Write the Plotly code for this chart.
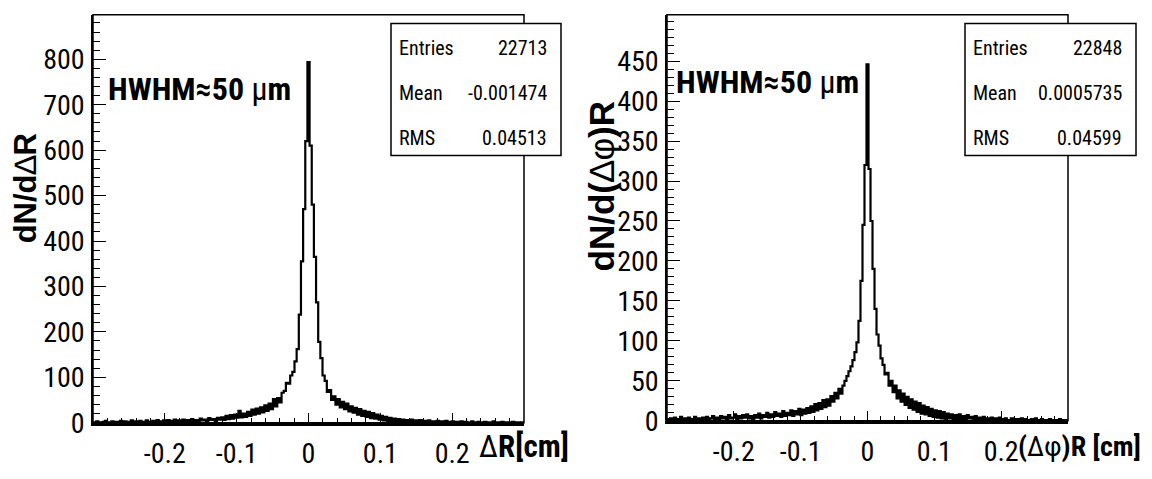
import plotly.graph_objects as go

W, H = 1152, 479

# ---------------- data ----------------
bin_lo = -0.3015
bin_width = 0.003
n_bins = 201
centers = [round(bin_lo + bin_width * (i + 0.5), 4) for i in range(n_bins)]

counts_dR = [
    1, 0, 3, 1, 0, 2, 4, 1, 0, 3, 1, 2, 0, 4, 1, 3, 0, 2, 5, 1,
    3, 0, 4, 2, 1, 5, 2, 0, 4, 3, 6, 1, 3, 5, 2, 6, 1, 4, 7, 2,
    5, 2, 7, 3, 6, 2, 8, 4, 6, 3, 9, 5, 7, 3, 10, 6, 8, 4, 11, 7,
    12, 6, 15, 8, 17, 9, 18, 11, 26, 12, 20, 13, 24, 15, 29, 18, 31, 20, 34, 23,
    38, 26, 42, 30, 52, 36, 54, 45, 66, 70, 88, 86, 104, 112, 135, 162, 238, 355, 470, 620,
    794,
    610, 480, 365, 265, 178, 142, 104, 92, 68, 72, 50, 58, 40, 52, 34, 46, 30, 42, 25, 36,
    22, 33, 18, 30, 15, 26, 13, 24, 10, 21, 9, 18, 7, 15, 5, 13, 4, 11, 3, 9,
    2, 8, 1, 7, 3, 6, 1, 7, 2, 5, 0, 6, 2, 4, 1, 5, 0, 3, 2, 4,
    0, 3, 1, 4, 0, 2, 3, 0, 2, 1, 3, 0, 2, 1, 0, 3, 1, 0, 2, 1,
    0, 2, 1, 0, 1, 3, 0, 1, 0, 2, 1, 0, 1, 0, 2, 0, 1, 0, 1, 0,
]

counts_dphiR = [
    2, 0, 3, 1, 4, 0, 2, 5, 1, 3, 0, 4, 2, 1, 5, 2, 3, 0, 4, 2,
    5, 1, 3, 6, 2, 4, 1, 6, 3, 5, 2, 7, 3, 4, 8, 2, 6, 3, 7, 4,
    8, 3, 6, 2, 7, 4, 9, 3, 7, 5, 10, 4, 8, 5, 11, 6, 9, 5, 12, 6,
    10, 7, 13, 6, 12, 8, 15, 7, 14, 9, 16, 10, 18, 11, 21, 13, 22, 15, 26, 17,
    27, 19, 31, 24, 35, 28, 40, 34, 44, 50, 56, 62, 68, 76, 86, 98, 125, 175, 245, 320,
    446,
    315, 250, 190, 140, 108, 94, 78, 70, 58, 60, 44, 50, 36, 44, 28, 38, 24, 34, 20, 30,
    16, 27, 14, 24, 11, 22, 9, 19, 8, 17, 6, 15, 5, 13, 4, 12, 3, 11, 2, 9,
    3, 8, 2, 7, 1, 8, 2, 6, 1, 7, 3, 5, 0, 6, 2, 4, 1, 5, 0, 3,
    2, 4, 0, 3, 1, 4, 0, 2, 3, 1, 0, 3, 2, 0, 2, 1, 3, 0, 2, 1,
    0, 2, 1, 3, 0, 1, 2, 0, 1, 0, 2, 1, 0, 1, 0, 2, 0, 1, 0, 1,
]

x_tickvals = [-0.2, -0.1, 0.0, 0.1, 0.2]
x_ticktext = ["-0.2", "-0.1", "0", "0.1", "0.2"]
y_ticks_dR = [0, 100, 200, 300, 400, 500, 600, 700, 800]
y_ticks_dphiR = [0, 50, 100, 150, 200, 250, 300, 350, 400, 450]

stat_labels = ["Entries", "Mean", "RMS"]
stats_dR = ["22713", "-0.001474", "0.04513"]
stats_dphiR = ["22848", "0.0005735", "0.04599"]

# ---------------- styling ----------------
COND = "Roboto Condensed, Liberation Sans, Arial, sans-serif"
SANS = "Liberation Sans, Arial, sans-serif"


def px(x):
    return x / W


def py(y):
    return 1 - y / H


fig = go.Figure()
fig.add_trace(go.Scatter(x=centers, y=counts_dR, mode="lines", line=dict(color="black", width=2.2, shape="hvh"),
                         xaxis="x", yaxis="y", showlegend=False, hoverinfo="skip"))
fig.add_trace(go.Scatter(x=centers, y=counts_dphiR, mode="lines", line=dict(color="black", width=2.2, shape="hvh"),
                         xaxis="x2", yaxis="y2", showlegend=False, hoverinfo="skip"))

tickfont = dict(family=COND, size=28, color="black")


def xaxis_cfg(domain, anchor):
    return dict(domain=domain, anchor=anchor, range=[-0.3, 0.3], tickvals=x_tickvals, ticktext=x_ticktext,
                ticks="inside", ticklen=10, tickwidth=1, tickcolor="black",
                minor=dict(dtick=0.02, tick0=0, ticks="inside", ticklen=5, tickwidth=1, tickcolor="black"),
                showline=True, linewidth=3, linecolor="black", mirror=False, showgrid=False, zeroline=False,
                tickfont=tickfont, ticklabelstandoff=4)


def yaxis_cfg(domain, anchor, rng, tickvals, minor_dtick):
    return dict(domain=domain, anchor=anchor, range=rng, tickvals=tickvals,
                ticktext=[str(v) for v in tickvals],
                ticks="inside", ticklen=13, tickwidth=1, tickcolor="black",
                minor=dict(dtick=minor_dtick, tick0=0, ticks="inside", ticklen=7, tickwidth=1, tickcolor="black"),
                showline=True, linewidth=1.5, linecolor="black", mirror=False, showgrid=False, zeroline=False,
                tickfont=tickfont, ticklabelstandoff=1)


L1, R1, T1, B1 = 85, 516, 7, 430
L2, R2, T2, B2 = 659, 1060, 7, 428

fig.update_layout(
    width=W, height=H, margin=dict(l=0, r=0, t=0, b=0),
    paper_bgcolor="white", plot_bgcolor="white",
    xaxis=xaxis_cfg([px(L1), px(R1)], "y"),
    yaxis=yaxis_cfg([py(B1), py(T1)], "x", [0, 898], y_ticks_dR, 20),
    xaxis2=xaxis_cfg([px(L2), px(R2)], "y2"),
    yaxis2=yaxis_cfg([py(B2), py(T2)], "x2", [0, 508], y_ticks_dphiR, 10),
)

shapes = []
for xr, yr in [("x domain", "y domain"), ("x2 domain", "y2 domain")]:
    shapes.append(dict(type="rect", xref=xr, yref=yr, x0=0, x1=1, y0=0, y1=1,
                       line=dict(color="black", width=1.5), layer="above"))

annotations = []


def stats_box(x0, x1, y0, y1, values):
    shapes.append(dict(type="rect", xref="paper", yref="paper", x0=px(x0), x1=px(x1), y0=py(y1), y1=py(y0),
                       line=dict(color="black", width=1.5), fillcolor="white", layer="above"))
    row_y = [41, 88, 135]
    for lab, val, yy in zip(stat_labels, values, row_y):
        annotations.append(dict(xref="paper", yref="paper", x=px(x0 + 6), y=py(yy), text=lab, showarrow=False,
                                xanchor="left", yanchor="middle", font=dict(family=COND, size=20, color="black")))
        annotations.append(dict(xref="paper", yref="paper", x=px(x1 - 12), y=py(yy), text=val, showarrow=False,
                                xanchor="right", yanchor="middle", font=dict(family=COND, size=20, color="black")))


stats_box(383, 553, 16, 153, stats_dR)
stats_box(957, 1128, 16, 153, stats_dphiR)

hwhm = "<b>HWHM≈50 </b>μ<b>m</b>"
annotations.append(dict(xref="paper", yref="paper", x=px(98), y=py(84), text=hwhm, showarrow=False,
                        xanchor="left", yanchor="middle", font=dict(family=COND, size=32, color="black")))
annotations.append(dict(xref="paper", yref="paper", x=px(666), y=py(77), text=hwhm, showarrow=False,
                        xanchor="left", yanchor="middle", font=dict(family=COND, size=32, color="black")))

# axis titles
annotations.append(dict(xref="paper", yref="paper", x=px(17), y=py(187), text="<b>dN/d</b>∆<b>R</b>",
                        showarrow=False, textangle=-90, xanchor="center", yanchor="middle",
                        font=dict(family=SANS, size=31, color="black")))
annotations.append(dict(xref="paper", yref="paper", x=px(593), y=py(185), text="<b>dN/d(</b>∆φ<b>)R</b>",
                        showarrow=False, textangle=-90, xanchor="center", yanchor="middle",
                        font=dict(family=SANS, size=35, color="black")))
annotations.append(dict(xref="paper", yref="paper", x=px(469), y=py(455), text="∆<b>R[cm]</b>",
                        showarrow=False, xanchor="left", yanchor="middle",
                        font=dict(family=COND, size=31, color="black")))
annotations.append(dict(xref="paper", yref="paper", x=px(1008), y=py(455), text="<b>(</b>∆φ<b>)R [cm]</b>",
                        showarrow=False, xanchor="left", yanchor="middle",
                        font=dict(family=COND, size=28, color="black")))

fig.update_layout(shapes=shapes, annotations=annotations)
assert len(counts_dR) == n_bins and len(counts_dphiR) == n_bins
fig.write_html("out.html")
